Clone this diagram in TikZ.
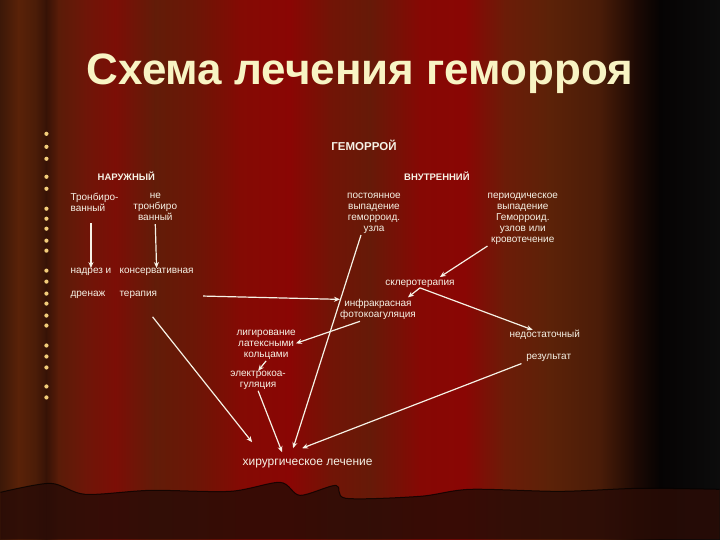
\documentclass[tikz,border=0pt]{standalone}
\usepackage{fontspec}
\setmainfont{Liberation Sans}
\usetikzlibrary{arrows.meta}
\definecolor{cA}{HTML}{3C1808}
\definecolor{cB}{HTML}{5A2208}
\definecolor{cC}{HTML}{4A1C08}
\definecolor{cD}{HTML}{361206}
\definecolor{cE}{HTML}{5A1C08}
\definecolor{cF}{HTML}{6E1608}
\definecolor{cG}{HTML}{7C0E06}
\definecolor{cH}{HTML}{621C08}
\definecolor{cI}{HTML}{6C1606}
\definecolor{cJ}{HTML}{840A04}
\definecolor{cK}{HTML}{8A0604}
\definecolor{cL}{HTML}{721406}
\definecolor{cM}{HTML}{661A08}
\definecolor{cN}{HTML}{860804}
\definecolor{cO}{HTML}{8A0604}
\definecolor{cP}{HTML}{6C1C08}
\definecolor{cQ}{HTML}{5C2208}
\definecolor{cR}{HTML}{4A1C08}
\definecolor{cS}{HTML}{1E0A04}
\definecolor{cT}{HTML}{060303}
\definecolor{cU}{HTML}{0C0C0C}
\definecolor{hemdark}{HTML}{2A0C06}
\definecolor{inkwhite}{HTML}{F6F2E6}
\definecolor{titlecream}{HTML}{F8F4C4}
\definecolor{bulletgold}{HTML}{F2CC7A}

\tikzset{
  lbl/.style={text=inkwhite, font=\fontsize{10}{11}\selectfont, align=center, inner sep=0pt},
  multi/.style={lbl, anchor=north, execute at begin node=\strut},
  head/.style={lbl, anchor=base, font=\fontsize{9.5}{11}\selectfont\bfseries},
  arr/.style={draw=inkwhite, line width=1.2pt, -{Stealth[length=6pt,width=5pt]}},
}

\begin{document}
\begin{tikzpicture}[x=1pt,y=-1pt]
    % curtain background
    \foreach \xa/\ca/\xb/\cb in {0/cA/18/cB, 18/cB/36/cC, 36/cC/46/cD, 46/cD/58/cE, 58/cE/85/cF,
        85/cF/115/cG, 115/cG/155/cH, 155/cH/195/cI, 195/cI/240/cJ, 240/cJ/290/cK, 290/cK/330/cL,
        330/cL/370/cM, 370/cM/420/cN, 420/cN/465/cO, 465/cO/505/cP, 505/cP/550/cQ, 550/cQ/600/cR,
        600/cR/635/cS, 635/cS/660/cT, 660/cT/720/cU}
        \shade[left color=\ca, right color=\cb] (\xa-0.5,0) rectangle (\xb+0.5,540);
    \fill[hemdark, opacity=0.85] (0,540) -- plot[smooth] coordinates {(0,493) (50,484) (85,495) (150,491)
        (230,492) (280,483) (300,496) (336,486) (346,499) (420,497) (470,490) (560,492) (640,489) (720,490)}
        -- (720,540) -- cycle;
    \draw[black, line width=1pt, opacity=0.7] plot[smooth] coordinates {(0,493) (50,484) (85,495) (150,491)
        (230,492) (280,483) (300,496) (336,486) (346,499) (420,497) (470,490) (560,492) (640,489) (720,490)};
    \foreach \by in {134,147,159,177,189,209,219,229,241,251,271,282,294,304,316,326,346,357,368,387,398}
        \fill[bulletgold] (46,\by) circle (2.1);

    \node[lbl, anchor=base, text=titlecream, font=\fontsize{44}{50}\selectfont\bfseries] (title) at (360,85) {Схема лечения геморроя};

    \node[head, font=\fontsize{11.5}{13}\selectfont\bfseries] (gem) at (364,151) {ГЕМОРРОЙ};
    \node[head] (nar) at (126,181) {НАРУЖНЫЙ};
    \node[head] (vnu) at (437,181) {ВНУТРЕННИЙ};

    \node[multi, anchor=north west, align=left] (tromb) at (70,193.3) {Тронбиро-\\ванный};
    \node[multi] (netromb) at (155,193.3) {не\\тронбиро\\ванный};
    \node[multi] (post) at (374,193.3) {постоянное\\выпадение\\геморроид.\\узла};
    \node[multi] (period) at (523,193.3) {периодическое\\выпадение\\Геморроид.\\узлов или\\кровотечение};

    \node[lbl, anchor=base west] (nadrez) at (70,274) {надрез и};
    \node[lbl, anchor=base west] (konserv) at (119,274) {консервативная};
    \node[lbl, anchor=base west] (drenazh) at (70,297) {дренаж};
    \node[lbl, anchor=base west] (terap) at (119,297) {терапия};

    \node[lbl, anchor=base] (sklero) at (420,286) {склеротерапия};
    \node[multi] (infra) at (378,299.8) {инфракрасная\\фотокоагуляция};
    \node[lbl, anchor=base] (nedost) at (545,338) {недостаточный};
    \node[lbl, anchor=base] (rez) at (549,360) {результат};
    \node[multi] (lig) at (266,330.3) {лигирование\\латексными\\кольцами};
    \node[multi] (elektro) at (258,371.3) {электрокоа-\\гуляция};
    \node[lbl, anchor=base, font=\fontsize{12}{14}\selectfont] (hir) at (307.5,466) {хирургическое лечение};

    % arrows
    \draw[arr, shorten <=8pt] (nadrez.north |- tromb.south) -- (nadrez.north);
    \draw[arr] (netromb.south) -- (konserv.north);
    \draw[arr] (period.south west) -- ([xshift=20pt,yshift=3pt]sklero.north);
    \draw[arr] (sklero.south) -- ([xshift=-8pt,yshift=2pt]infra.north east);
    \draw[arr] (sklero.south) -- ([xshift=-12pt]nedost.north);
    \draw[arr, shorten <=46pt] (terap.east) -- (infra.north west);
    \draw[arr] ([xshift=-13pt]post.south) -- ([xshift=-14.5pt,yshift=10.5pt]hir.north);
    \draw[arr, shorten <=23pt] (terap.south) -- ([xshift=-55.5pt,yshift=16.5pt]hir.north);
    \draw[arr] ([xshift=-18pt]infra.south) -- ([yshift=2pt]lig.east);
    \draw[arr] (lig.south) -- (elektro.north);
    \draw[arr] (elektro.south) -- ([xshift=-25.5pt,yshift=6.5pt]hir.north);
    \draw[arr, shorten <=5pt] (rez.south west) -- ([xshift=-5.5pt,yshift=10.5pt]hir.north);
\end{tikzpicture}
\end{document}
